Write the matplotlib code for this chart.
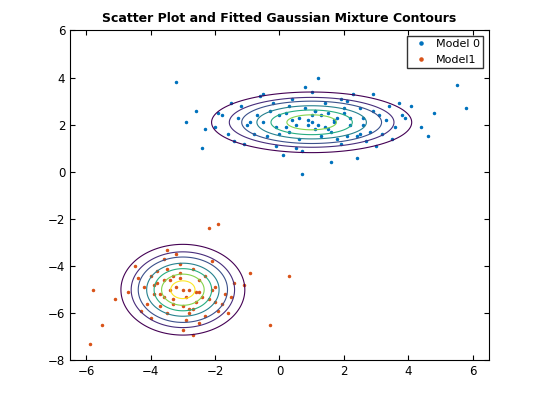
import numpy as np
import matplotlib
matplotlib.use("Agg")
from matplotlib import pyplot as plt

# cluster 0 points (approximate)
x0 = [-0.5,0.2,1.1,1.8,2.5,3.1,-1.2,0.6,1.4,2.2,-0.1,0.9,1.6,2.9,3.6,-1.8,-0.8,0.4,1.2,2.0,2.7,3.3,-2.3,-1.5,0.0,0.7,1.5,2.4,3.9,4.4,-2.6,-1.0,0.3,1.0,1.9,2.6,3.4,-0.3,0.5,1.3,2.1,-1.4,0.1,0.8,1.7,2.8,4.1,-2.0,-0.6,1.0,
      0.5,1.6,2.3,-0.9,0.2,1.1,3.0,-1.6,0.8,2.0,1.4,-0.2,2.6,3.7,-2.9,-1.1,0.6,1.8,2.9,4.8,-0.4,1.2,2.2,-1.9,0.4,1.5,3.2,-0.7,0.9,2.5,5.5,5.8,-3.2,-2.4,4.6,1.0,-0.1,2.1,1.3,0.3,3.5,-1.3,1.9,0.7,2.4,-0.5,1.1,3.8,0.0,1.7]
y0 = [2.1,2.5,1.8,2.3,1.6,2.4,2.8,1.4,2.9,2.0,1.1,2.2,1.7,2.6,1.9,2.4,1.6,3.1,2.0,2.7,1.3,2.2,1.8,2.9,2.4,0.9,2.5,1.5,2.3,1.9,2.6,2.0,1.7,3.4,1.2,2.3,2.8,2.6,2.0,1.5,3.0,1.3,0.7,2.7,2.1,1.7,2.8,1.9,3.2,2.4,
      1.0,0.4,3.3,2.1,1.9,2.6,1.1,1.6,3.6,2.5,1.9,2.9,2.0,2.9,2.1,1.2,2.3,1.4,3.3,2.5,1.5,4.0,2.3,2.5,2.2,1.8,1.6,2.4,2.0,2.7,3.7,2.7,3.8,1.0,1.5,2.1,1.9,1.5,2.4,2.8,1.4,2.3,3.1,-0.1,0.6,3.3,2.6,2.4,1.6,2.2]

# cluster 1 points
x1 = [-3.0,-2.5,-3.6,-2.0,-4.1,-3.3,-2.8,-3.9,-2.2,-3.5,-4.4,-1.7,-3.1,-2.6,-3.8,-2.9,-4.7,-1.4,-3.4,-2.3,-3.7,-2.7,-4.2,-1.9,-3.2,-2.4,-5.1,-1.1,-3.0,-3.6,-2.1,-4.0,-2.8,-3.3,-4.5,-1.6,-2.5,-3.9,-3.1,-2.0,
      -5.8,-5.9,-0.3,0.3,-1.9,-2.2,-0.9,-5.5,-3.5,-2.7,
      -3.2,-2.9,-3.4,-2.6,-3.0,-3.7,-2.3,-3.5,-2.8,-3.1,-4.3,-1.8,-2.5,-3.8,-3.3,-2.1,-4.0,-2.7,-3.6,-1.5]
y1 = [-5.0,-4.6,-5.3,-4.9,-5.6,-4.4,-5.8,-4.8,-5.4,-6.0,-4.5,-5.2,-3.9,-5.5,-4.2,-6.3,-5.1,-4.7,-5.0,-6.1,-5.7,-4.1,-4.9,-5.9,-3.5,-5.3,-5.4,-4.8,-6.7,-4.6,-3.8,-6.2,-5.0,-5.6,-4.0,-6.0,-5.1,-5.2,-4.3,-5.5,
      -5.0,-7.3,-6.5,-4.4,-2.2,-2.4,-4.3,-6.5,-3.3,-6.9,
      -4.9,-5.3,-4.6,-5.1,-5.7,-5.2,-4.4,-4.1,-6.0,-4.5,-5.9,-5.6,-6.4,-4.7,-5.4,-5.0,-4.4,-5.8,-3.7,-5.3]

# fitted mixture parameters
mu = [(1.0, 2.1), (-3.0, -5.0)]
sd = [(1.5, 0.62), (0.9, 0.9)]
weights = [0.5, 0.5]
levels = [0.01, 0.02, 0.03, 0.045, 0.06, 0.075, 0.09]

gx, gy = np.meshgrid(np.linspace(-7, 7, 400), np.linspace(-9, 7, 400))
pdf = np.zeros_like(gx)
for (mx, my), (sx, sy), w in zip(mu, sd, weights):
    pdf += w / (2*np.pi*sx*sy) * np.exp(-0.5*(((gx-mx)/sx)**2 + ((gy-my)/sy)**2))

fig = plt.figure(figsize=(5.4, 4.05), dpi=100)
ax = fig.add_axes([0.13, 0.11, 0.775, 0.815])
ax.plot(x0, y0, '.', color='#0072BD', markersize=3, label='Model 0')
ax.plot(x1, y1, '.', color='#D95319', markersize=3, label='Model1')
ax.contour(gx, gy, pdf, levels=levels, cmap='viridis', linewidths=0.8)
ax.set_xlim(-6.5, 6.5)
ax.set_ylim(-8, 6)
ax.set_xticks(range(-6, 7, 2))
ax.set_yticks(range(-8, 7, 2))
ax.tick_params(labelsize=8.5, direction='in', top=True, right=True)
ax.set_title('Scatter Plot and Fitted Gaussian Mixture Contours', fontsize=9, fontweight='bold')
ax.legend(loc='upper right', fontsize=8, fancybox=False, edgecolor='black',
          borderpad=0.3, handletextpad=0.3, markerscale=1.5)
fig.savefig('out.png')
